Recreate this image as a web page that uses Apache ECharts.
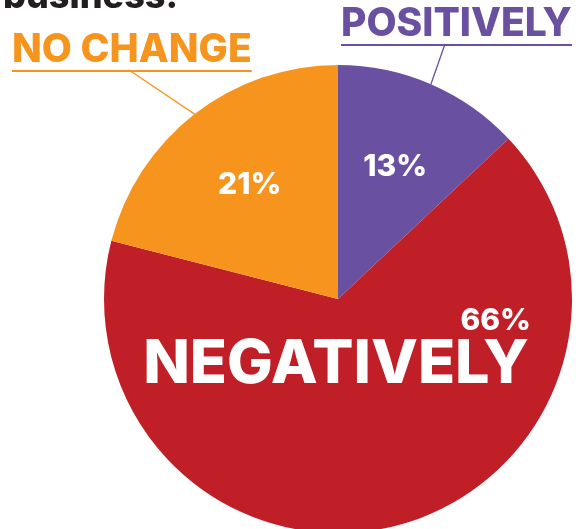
<!DOCTYPE html>
<html>
<head>
<meta charset="utf-8">
<script src="https://cdn.jsdelivr.net/npm/echarts@6/dist/echarts.min.js"></script>
<style>
  html, body { margin: 0; padding: 0; background: #fff; }
  #chart { width: 579px; height: 529px; }
</style>
</head>
<body>
<div id="chart"></div>
<script>
// data
const categories = ['POSITIVELY', 'NEGATIVELY', 'NO CHANGE']
const shares = [13, 66, 21]

const colors = ['#6a50a0', '#c11f27', '#f7941d']
const font = 'Inter'

const chart = echarts.init(document.getElementById('chart'))

const nameData = categories.map((name, i) => {
  const item = { name, value: shares[i], itemStyle: { color: colors[i] } }
  if (i === 1) {
    // big white name inside the red slice
    item.label = {
      position: 'inside',
      formatter: '{b}',
      color: '#fff',
      fontFamily: font,
      fontWeight: 800,
      fontSize: 61
    }
    item.labelLine = { show: false }
  } else {
    item.label = {
      position: 'outside',
      formatter: '{n|{b}}\n{u|}',
      rich: {
        n: { fontFamily: font, fontWeight: 800, fontSize: 39, lineHeight: 34, color: colors[i] },
        u: { width: '100%', height: 2, lineHeight: 8, backgroundColor: colors[i] }
      }
    }
    item.labelLine = { show: true, lineStyle: { color: colors[i], width: 1.3 } }
  }
  return item
})

const pctData = categories.map((name, i) => ({
  name, value: shares[i], itemStyle: { color: 'transparent' }
}))

chart.setOption({
  animation: false,
  backgroundColor: '#ffffff',
  title: {
    text: 'business:',
    left: -2,
    top: -26,
    textStyle: { fontFamily: font, fontWeight: 800, fontSize: 36, color: '#231f20' }
  },
  series: [
    {
      type: 'pie',
      center: [338, 299],
      radius: 234,
      startAngle: 90,
      clockwise: true,
      silent: true,
      avoidLabelOverlap: false,
      emphasis: { disabled: true },
      itemStyle: { borderWidth: 0 },
      labelLine: { length: 30, length2: 0 },
      data: nameData,
      labelLayout(p) {
        if (p.dataIndex === 1) {
          return { x: 336, y: 365, align: 'center', verticalAlign: 'middle' }
        }
        const start = p.labelLinePoints ? p.labelLinePoints[0] : null
        if (p.dataIndex === 0) {
          const end = [445, 44]
          return { x: 341, y: 49, align: 'left', verticalAlign: 'bottom', labelLinePoints: start ? [start, end, end] : undefined }
        }
        const end = [129, 70]
        return { x: 12, y: 75, align: 'left', verticalAlign: 'bottom', labelLinePoints: start ? [start, end, end] : undefined }
      }
    },
    {
      type: 'pie',
      center: [338, 299],
      radius: 282,
      startAngle: 90,
      clockwise: true,
      silent: true,
      avoidLabelOverlap: false,
      emphasis: { disabled: true },
      itemStyle: { borderWidth: 0 },
      label: {
        show: true,
        position: 'inside',
        formatter: p => p.value + '%',
        color: '#fff',
        fontFamily: font,
        fontWeight: 800,
        fontSize: 30
      },
      labelLine: { show: false },
      data: pctData,
      labelLayout(p) {
        if (p.dataIndex === 1) {
          return { x: 531, y: 321, align: 'right', verticalAlign: 'middle' }
        }
        return {}
      }
    }
  ]
})
</script>
</body>
</html>
